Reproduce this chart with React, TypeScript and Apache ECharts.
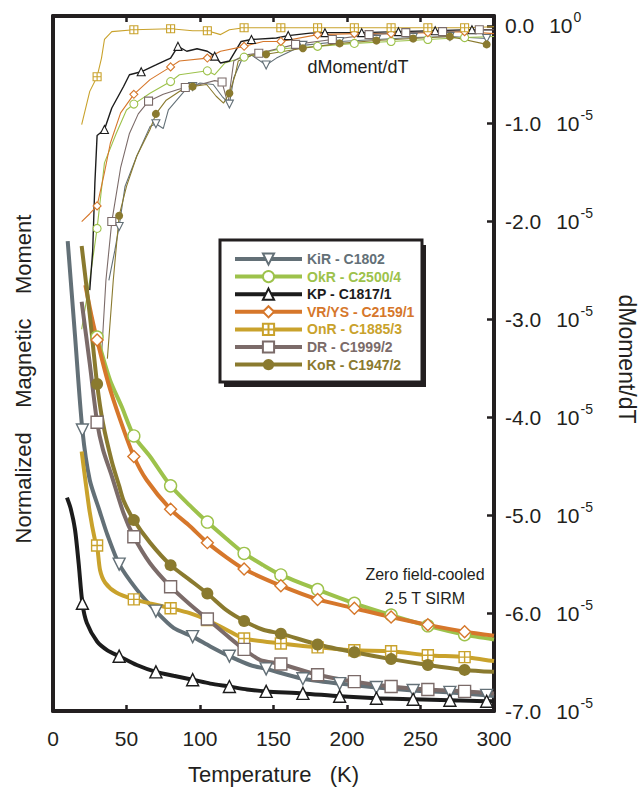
import React, { useEffect, useRef } from 'react';
import * as echarts from 'echarts';

const FONT = '"Liberation Sans", Arial, Helvetica, sans-serif';
const INK = '#231f20';

// ---------- series identity ----------
const sampleNames = ['KiR - C1802', 'OkR - C2500/4', 'KP - C1817/1', 'VR/YS - C2159/1', 'OnR - C1885/3', 'DR - C1999/2', 'KoR - C1947/2'];
const sampleColors = ['#637077', '#9dc24b', '#1c1c1c', '#d6772b', '#c9a22c', '#7b6b69', '#8a7a2f'];

// ---------- Normalized magnetic moment (thick curves), y in right-axis units ----------
const kirT = [10, 15, 20, 25, 32, 37, 45, 57, 70, 82, 95, 107, 120, 134, 145, 170, 195, 220, 245, 270, 295, 300];
const kirM = [-2.2, -3.17, -4.13, -4.64, -4.97, -5.2, -5.5, -5.76, -5.98, -6.15, -6.24, -6.34, -6.44, -6.53, -6.57, -6.67, -6.72, -6.76, -6.79, -6.81, -6.84, -6.85];
const kirMarks = [20, 45, 70, 95, 120, 145, 170, 195, 220, 245, 270, 295];

const okrT = [30, 38.8, 46.7, 55, 66, 80, 93, 105, 118, 130, 143, 155, 180, 205, 230, 255, 280, 300];
const okrM = [-3.18, -3.62, -3.89, -4.19, -4.4, -4.7, -4.9, -5.07, -5.24, -5.39, -5.51, -5.61, -5.76, -5.9, -6.02, -6.13, -6.22, -6.27];
const okrMarks = [30, 55, 80, 105, 130, 155, 180, 205, 230, 255, 280];

const kpT = [9.5, 12, 15, 17.5, 20, 23, 30, 37, 45, 57, 70, 82, 95, 107, 120, 132, 145, 170, 195, 220, 245, 270, 295, 300];
const kpM = [-4.82, -4.93, -5.15, -5.5, -5.9, -6.1, -6.29, -6.38, -6.44, -6.53, -6.6, -6.64, -6.68, -6.72, -6.75, -6.78, -6.8, -6.82, -6.85, -6.87, -6.88, -6.89, -6.9, -6.9];
const kpMarks = [20, 45, 70, 95, 120, 145, 170, 195, 220, 245, 270, 295];

const vrT = [22, 26, 30, 37.6, 45.6, 55, 63.7, 80, 93, 105, 118, 130, 155, 180, 205, 230, 255, 280, 300];
const vrM = [-2.65, -2.95, -3.21, -3.65, -4.02, -4.4, -4.64, -4.94, -5.11, -5.28, -5.43, -5.55, -5.72, -5.86, -5.95, -6.04, -6.12, -6.19, -6.23];
const vrMarks = [30, 55, 80, 105, 130, 155, 180, 205, 230, 255, 280];

const onrT = [19.5, 22, 25, 28.5, 30, 32, 35.5, 43, 55, 66, 80, 93, 105, 118, 130, 155, 180, 205, 230, 255, 280, 300];
const onrM = [-4.35, -4.64, -4.97, -5.25, -5.31, -5.56, -5.69, -5.79, -5.86, -5.9, -5.95, -6.0, -6.07, -6.17, -6.26, -6.31, -6.35, -6.38, -6.39, -6.43, -6.45, -6.49];
const onrMarks = [30, 55, 80, 105, 130, 155, 180, 205, 230, 255, 280];

const drT = [19.5, 25, 30, 34, 40, 48, 55, 66, 80, 93, 105, 120, 130, 141, 155, 180, 205, 230, 255, 280, 300];
const drM = [-2.82, -3.45, -4.05, -4.33, -4.6, -4.98, -5.22, -5.49, -5.73, -5.91, -6.06, -6.25, -6.37, -6.48, -6.52, -6.63, -6.7, -6.75, -6.78, -6.8, -6.82];
const drMarks = [30, 55, 80, 105, 130, 155, 180, 205, 230, 255, 280];

const korT = [19.5, 25, 30, 34, 40, 45, 48, 55, 66, 80, 93, 105, 118, 130, 143, 155, 180, 205, 230, 255, 280, 300];
const korM = [-2.25, -2.95, -3.66, -4.06, -4.45, -4.7, -4.85, -5.05, -5.28, -5.51, -5.66, -5.8, -5.97, -6.08, -6.17, -6.21, -6.32, -6.4, -6.47, -6.53, -6.58, -6.6];
const korMarks = [30, 55, 80, 105, 130, 155, 180, 205, 230, 255, 280];

// ---------- dMoment/dT (thin curves) ----------
const kirDT = [38, 42, 45, 49, 57, 66, 70, 75, 78.5, 91, 95, 100, 109, 115, 120, 123, 128, 135, 145, 152, 170, 195, 220, 245, 270, 295];
const kirD = [-2.6, -2.3, -2.05, -1.64, -1.33, -1.03, -1.0, -1.05, -0.86, -0.64, -0.62, -0.585, -0.6, -0.72, -0.8, -0.53, -0.36, -0.3, -0.4, -0.33, -0.2, -0.16, -0.14, -0.12, -0.11, -0.13];
const kirDMarks = [45, 70, 95, 120, 145, 170, 195, 220, 245, 270, 295];

const okrDT = [19.5, 25, 30, 35, 43, 50, 55, 66, 80, 86, 105, 110, 117, 130, 155, 180, 205, 230, 255, 280, 300];
const okrD = [-3.1, -2.6, -2.07, -1.4, -1.1, -0.86, -0.8, -0.69, -0.57, -0.5, -0.46, -0.5, -0.38, -0.32, -0.235, -0.21, -0.18, -0.16, -0.14, -0.12, -0.11];
const okrDMarks = [30, 55, 80, 105, 130, 155, 180, 205, 230, 255, 280];

const kpDT = [25, 27, 28.5, 30, 35, 40, 48, 52, 60, 70, 77, 80, 85, 91, 98, 105, 110, 114, 120, 128, 135, 152, 160, 175, 185, 210, 235, 260, 285, 300];
const kpD = [-2.7, -2.3, -1.6, -1.12, -1.06, -0.84, -0.62, -0.5, -0.47, -0.4, -0.35, -0.33, -0.21, -0.26, -0.235, -0.26, -0.31, -0.38, -0.36, -0.16, -0.14, -0.125, -0.1, -0.075, -0.07, -0.07, -0.06, -0.05, -0.04, -0.04];
const kpDMarks = [35, 60, 85, 110, 135, 160, 185, 210, 235, 260, 285];

const vrDT = [19.5, 25, 30, 35, 39, 46, 55, 66, 80, 86, 105, 114, 130, 143, 155, 180, 205, 230, 255, 280, 300];
const vrD = [-2.0, -1.92, -1.84, -1.5, -1.2, -0.89, -0.7, -0.55, -0.42, -0.36, -0.33, -0.26, -0.21, -0.16, -0.16, -0.09, -0.08, -0.08, -0.07, -0.06, -0.08];
const vrDMarks = [30, 55, 80, 105, 130, 155, 180, 205, 230, 255, 280];

const onrDT = [19.5, 25, 30, 33, 35, 40, 55, 80, 95, 105, 114, 120, 130, 155, 180, 205, 230, 255, 280, 300];
const onrD = [-1.01, -0.67, -0.52, -0.33, -0.14, -0.06, -0.04, -0.03, -0.05, -0.05, -0.09, -0.04, -0.02, -0.02, -0.02, -0.02, -0.02, -0.02, -0.02, -0.01];
const onrDMarks = [30, 55, 80, 105, 130, 155, 180, 205, 230, 255, 280];

const drDT = [33, 36, 40, 46, 52, 58, 65, 75, 85, 90, 100, 110, 115, 119, 123, 130, 140, 165, 190, 215, 240, 265, 290, 300];
const drD = [-3.37, -2.6, -2.0, -1.45, -1.1, -0.9, -0.77, -0.7, -0.65, -0.63, -0.6, -0.56, -0.575, -0.8, -0.36, -0.3, -0.28, -0.19, -0.14, -0.09, -0.07, -0.06, -0.04, -0.04];
const drDMarks = [40, 65, 90, 115, 140, 165, 190, 215, 240, 265, 290];

const korDT = [37, 41, 45, 50, 57, 66, 70, 77, 89, 95, 104.5, 111, 116, 120, 124, 126, 135, 145, 170, 195, 220, 245, 270, 295];
const korD = [-3.4, -2.6, -1.94, -1.64, -1.33, -1.06, -0.9, -0.76, -0.64, -0.62, -0.6, -0.72, -0.79, -0.69, -0.5, -0.36, -0.3, -0.29, -0.23, -0.18, -0.15, -0.13, -0.11, -0.19];
const korDMarks = [45, 70, 95, 120, 145, 170, 195, 220, 245, 270, 295];

// ---------- axes ----------
const tempTicks = [0, 50, 100, 150, 200, 250, 300];
const dmdtTicks = [0, -1, -2, -3, -4, -5, -6, -7];
const dmdtExponents = ['0', '-5', '-5', '-5', '-5', '-5', '-5', '-5'];

const crossSquare = 'path://M0,0H10V10H0Z M5,0V10 M0,5H10';

type Marker = { symbol: string; rotate?: number; fill: string };
const markers: Marker[] = [
  { symbol: 'triangle', rotate: 180, fill: '#ffffff' },
  { symbol: 'circle', fill: '#ffffff' },
  { symbol: 'triangle', fill: '#ffffff' },
  { symbol: 'diamond', fill: '#ffffff' },
  { symbol: crossSquare, fill: '#ffffff' },
  { symbol: 'rect', fill: '#ffffff' },
  { symbol: 'circle', fill: 'fill' },
];

const thick = [
  [kirT, kirM, kirMarks], [okrT, okrM, okrMarks], [kpT, kpM, kpMarks], [vrT, vrM, vrMarks],
  [onrT, onrM, onrMarks], [drT, drM, drMarks], [korT, korM, korMarks],
];
const thin = [
  [kirDT, kirD, kirDMarks], [okrDT, okrD, okrDMarks], [kpDT, kpD, kpDMarks], [vrDT, vrD, vrDMarks],
  [onrDT, onrD, onrDMarks], [drDT, drD, drDMarks], [korDT, korD, korDMarks],
];

function pts(ts: number[], vs: number[], marks: number[]) {
  return ts.map((t, i) => (marks.indexOf(t) >= 0 ? [t, vs[i]] : { value: [t, vs[i]], symbol: 'none' }));
}

export default function App() {
  const ref = useRef<HTMLDivElement>(null);
  useEffect(() => {
    if (!ref.current) return;
    const chart = echarts.init(ref.current, undefined, { renderer: 'svg' });
    const series: any[] = [];
    thin.forEach((d, i) => {
      const c = sampleColors[i];
      const m = markers[i];
      series.push({
        name: sampleNames[i].split(' ')[0] + ' dM/dT',
        type: 'line',
        xAxisIndex: 0,
        yAxisIndex: 1,
        data: pts(d[0] as number[], d[1] as number[], d[2] as number[]),
        symbol: m.symbol,
        symbolRotate: m.rotate || 0,
        symbolSize: 8,
        showAllSymbol: true,
        smooth: false,
        lineStyle: { color: c, width: i === 2 ? 1.4 : 1.1 },
        itemStyle: { color: m.fill === 'fill' ? c : m.fill, borderColor: c, borderWidth: m.fill === 'fill' ? 0 : 1.1 },
        z: 2,
        silent: true,
      });
    });
    thick.forEach((d, i) => {
      const c = sampleColors[i];
      const m = markers[i];
      series.push({
        name: sampleNames[i],
        type: 'line',
        xAxisIndex: 0,
        yAxisIndex: 1,
        data: pts(d[0] as number[], d[1] as number[], d[2] as number[]),
        symbol: m.symbol,
        symbolRotate: m.rotate || 0,
        symbolSize: m.symbol === crossSquare ? 11 : 12,
        showAllSymbol: true,
        smooth: 0.25,
        lineStyle: { color: c, width: 4 },
        itemStyle: { color: m.fill === 'fill' ? c : m.fill, borderColor: c, borderWidth: m.fill === 'fill' ? 0 : 1.4 },
        z: 3,
        silent: true,
      });
    });

    const option: any = {
      animation: false,
      backgroundColor: '#ffffff',
      textStyle: { fontFamily: FONT },
      grid: { left: 53, top: 16, width: 441, height: 696, containLabel: false },
      xAxis: [
        {
          type: 'value', position: 'bottom', min: tempTicks[0], max: tempTicks[tempTicks.length - 1], interval: 50,
          axisLine: { show: true, onZero: false, lineStyle: { color: INK, width: 4 } },
          axisTick: { show: true, inside: true, length: 6, lineStyle: { color: INK, width: 2.5 } },
          axisLabel: { show: true, margin: 17, fontSize: 21, color: INK, fontFamily: FONT },
          splitLine: { show: false },
          name: 'Temperature   (K)', nameLocation: 'middle', nameGap: 52,
          nameTextStyle: { fontSize: 22, color: INK, fontFamily: FONT },
        },
        {
          type: 'value', position: 'top', min: tempTicks[0], max: tempTicks[tempTicks.length - 1], interval: 50,
          axisLine: { show: true, onZero: false, lineStyle: { color: INK, width: 4 } },
          axisTick: { show: true, inside: true, length: 6, lineStyle: { color: INK, width: 2.5 } },
          axisLabel: { show: false },
          splitLine: { show: false },
        },
      ],
      yAxis: [
        {
          type: 'value', position: 'left', min: -7, max: 0.1, interval: 1,
          axisLine: { show: true, onZero: false, lineStyle: { color: INK, width: 4 } },
          axisTick: { show: false }, axisLabel: { show: false }, splitLine: { show: false },
        },
        {
          type: 'value', position: 'right', min: -7, max: 0.1, interval: 1,
          axisLine: { show: true, onZero: false, lineStyle: { color: INK, width: 4 } },
          axisTick: { show: true, inside: true, length: 7, lineStyle: { color: INK, width: 2.5 } },
          splitLine: { show: false },
          axisLabel: {
            show: true, margin: 11, color: INK, fontFamily: FONT,
            formatter: (v: number) => {
              const k = dmdtTicks.findIndex((t) => Math.abs(t - v) < 1e-6);
              if (k < 0) return '';
              return `{a|${dmdtTicks[k].toFixed(1)}}{b|10}{s|${dmdtExponents[k]}}`;
            },
            rich: {
              a: { fontSize: 21, color: INK, fontFamily: FONT, padding: [0, 15, 0, 0] },
              b: { fontSize: 21, color: INK, fontFamily: FONT },
              s: { fontSize: 14, color: INK, fontFamily: FONT, padding: [0, 0, 17, 1] },
            },
          },
        },
      ],
      legend: {
        orient: 'vertical', left: 233, top: 252, padding: 0,
        itemWidth: 67, itemHeight: 14, itemGap: 3.6,
        lineStyle: { width: 4 },
        selectedMode: false,
        data: sampleNames.map((n, i) => ({ name: n, textStyle: { color: sampleColors[i] } })),
        textStyle: { fontSize: 14, fontWeight: 'bold', fontFamily: FONT },
        z: 10,
      },
      graphic: [
        { type: 'rect', z: 5, shape: { x: 224, y: 245, width: 202, height: 142 }, style: { fill: INK } },
        { type: 'rect', z: 6, shape: { x: 220, y: 240, width: 202, height: 142 }, style: { fill: '#ffffff', stroke: INK, lineWidth: 3 } },
        { type: 'text', z: 6, x: 358, y: 67, style: { text: 'dMoment/dT', fontSize: 18, fill: INK, fontFamily: FONT, align: 'center', verticalAlign: 'middle' } },
        { type: 'text', z: 6, x: 425, y: 574, style: { text: 'Zero field-cooled', fontSize: 16, fill: INK, fontFamily: FONT, align: 'center', verticalAlign: 'middle' } },
        { type: 'text', z: 6, x: 425, y: 598, style: { text: '2.5 T SIRM', fontSize: 16, fill: INK, fontFamily: FONT, align: 'center', verticalAlign: 'middle' } },
        { type: 'text', z: 6, x: 23, y: 379, rotation: Math.PI / 2, style: { text: 'Normalized    Magnetic    Moment', fontSize: 22, fill: INK, fontFamily: FONT, align: 'center', verticalAlign: 'middle' } },
        { type: 'text', z: 6, x: 627, y: 359, rotation: -Math.PI / 2, style: { text: 'dMoment/dT', fontSize: 23, fill: INK, fontFamily: FONT, align: 'center', verticalAlign: 'middle' } },
      ],
      series,
    };
    chart.setOption(option);
    return () => chart.dispose();
  }, []);
  return <div ref={ref} style={{ position: 'fixed', left: 0, top: 0, width: 639, height: 790, background: '#fff' }} />;
}
